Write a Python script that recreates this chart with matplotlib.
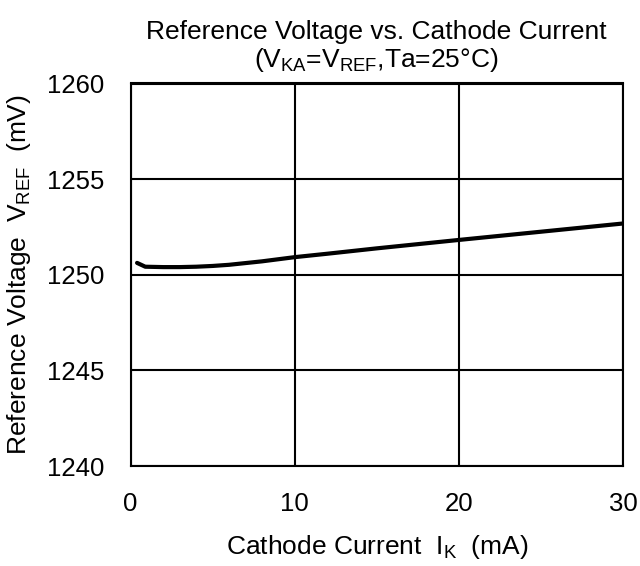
import matplotlib
matplotlib.use("Agg")
import matplotlib.pyplot as plt

plt.rcParams['font.family'] = ['Liberation Sans', 'DejaVu Sans']
plt.rcParams['mathtext.fontset'] = 'custom'
plt.rcParams['mathtext.rm'] = 'Liberation Sans'
plt.rcParams['mathtext.it'] = 'Liberation Sans'

current_mA = [0.4, 0.9, 2.0, 3.0, 4.0, 5.0, 6.0, 8.0, 10.0, 12.0, 15.0, 20.0, 25.0, 30.0]
vref_mV = [1250.62, 1250.42, 1250.40, 1250.40, 1250.42, 1250.46, 1250.52, 1250.70, 1250.92, 1251.10, 1251.38, 1251.82, 1252.25, 1252.68]

xticks = [0, 10, 20, 30]
yticks = [1240, 1245, 1250, 1255, 1260]

W, H = 640, 566
fig = plt.figure(figsize=(W/100, H/100), dpi=100)
L, R, T, B = 130.5, 623, 83.5, 466
ax = fig.add_axes([L/W, 1-B/H, (R-L)/W, (B-T)/H])
ax.plot(current_mA, vref_mV, color='black', lw=3.0, solid_capstyle='round')
ax.set_xlim(0, 30)
ax.set_ylim(1240, 1260)
ax.set_xticks(xticks)
ax.set_yticks(yticks)
ax.grid(True, color='black', lw=1.5)
ax.tick_params(length=0, labelsize=18.5, pad=19)
for s in ax.spines.values():
    s.set_linewidth(1.5)
ax.set_xlabel(r'Cathode Current  I$_\mathregular{K}$  (mA)', fontsize=19, labelpad=12)
ax.set_ylabel(r'Reference Voltage  V$_\mathregular{REF}$  (mV)', fontsize=19, labelpad=10)
ax.set_title('Reference Voltage vs. Cathode Current\n' + r'(V$_\mathregular{KA}$=V$_\mathregular{REF}$,Ta=25°C)',
             fontsize=19, pad=12, linespacing=1.1)
fig.savefig('out.png', dpi=100)
